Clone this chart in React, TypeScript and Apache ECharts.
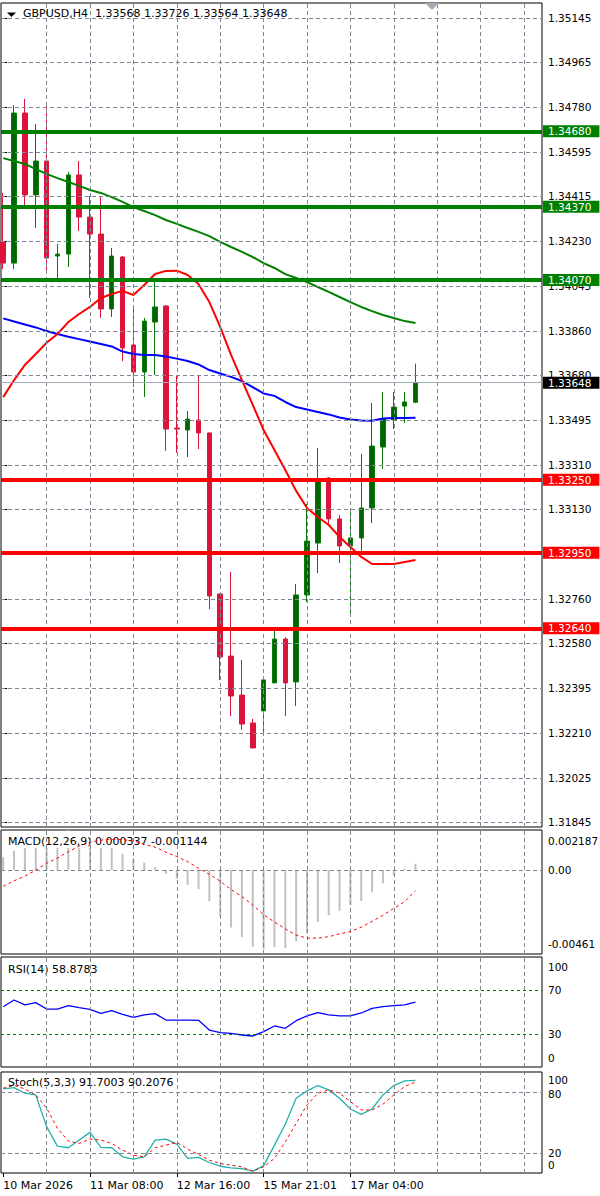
import React, { useEffect, useRef } from "react";
import * as echarts from "echarts";

const FONT = '"DejaVu Sans", Tahoma, sans-serif';
const FS = 10.5;
const FS_TITLE = 11;
const GRID_COLOR = "#7d8894";
const GRID_DASH = [4, 3];

// ---------- header ----------
const symbolName = "GBPUSD,H4";
const lastBarOHLC = ["1.33568", "1.33726", "1.33564", "1.33648"];

// ---------- H4 candles (bar index 0..38) ----------
const opens = [1.34226, 1.34139, 1.34755, 1.34419, 1.34558, 1.34168, 1.34176, 1.34501, 1.34328, 1.34258, 1.33951, 1.34164, 1.33803, 1.33692, 1.33897, 1.33963, 1.33462, 1.33454, 1.33495, 1.33442, 1.32781, 1.32526, 1.32366, 1.32251, 1.32301, 1.32416, 1.32596, 1.3242, 1.32777, 1.3299, 1.33257, 1.33089, 1.32978, 1.33011, 1.33134, 1.33384, 1.33495, 1.33552, 1.33568];
const highs = [1.34427, 1.34788, 1.34813, 1.3471, 1.34796, 1.34217, 1.34513, 1.34558, 1.34414, 1.3441, 1.34201, 1.34168, 1.33951, 1.33914, 1.34078, 1.33967, 1.33676, 1.33532, 1.3368, 1.33442, 1.32781, 1.32871, 1.3251, 1.32268, 1.32444, 1.32641, 1.32604, 1.32822, 1.3315, 1.3338, 1.33261, 1.33105, 1.33117, 1.33356, 1.33565, 1.3361, 1.3361, 1.3361, 1.33726];
const lows = [1.34115, 1.34115, 1.34365, 1.34283, 1.34098, 1.34074, 1.34123, 1.34271, 1.33996, 1.33914, 1.33918, 1.33737, 1.3363, 1.33589, 1.3368, 1.33368, 1.3336, 1.33343, 1.33376, 1.32719, 1.32428, 1.3228, 1.32223, 1.32149, 1.32215, 1.32416, 1.3228, 1.32321, 1.32748, 1.32867, 1.3306, 1.32908, 1.32691, 1.32949, 1.33072, 1.33294, 1.33458, 1.33483, 1.33564];
const closes = [1.34139, 1.34755, 1.34419, 1.34558, 1.3416, 1.34176, 1.34501, 1.34328, 1.34258, 1.33951, 1.34168, 1.33791, 1.33692, 1.33901, 1.33959, 1.33458, 1.33458, 1.33499, 1.33442, 1.32773, 1.32522, 1.32362, 1.32247, 1.32149, 1.32428, 1.32596, 1.32416, 1.32777, 1.32998, 1.33245, 1.33089, 1.32978, 1.33011, 1.33134, 1.33388, 1.33499, 1.33548, 1.33569, 1.33648];

// ---------- moving averages ----------
const maSlow = [1.3457, 1.34558, 1.34546, 1.34525, 1.34505, 1.34488, 1.34472, 1.34456, 1.34439, 1.34427, 1.3441, 1.3439, 1.34369, 1.34353, 1.34336, 1.34316, 1.343, 1.34283, 1.34267, 1.3425, 1.34226, 1.34205, 1.34185, 1.34164, 1.34139, 1.34119, 1.34094, 1.34078, 1.34061, 1.34041, 1.34021, 1.34, 1.33979, 1.33959, 1.33942, 1.33926, 1.33914, 1.33901, 1.33893];
const maMid = [1.33912, 1.33899, 1.33887, 1.33875, 1.3386, 1.33848, 1.33837, 1.33827, 1.33817, 1.33807, 1.33797, 1.33776, 1.33766, 1.33762, 1.33762, 1.33756, 1.33747, 1.33737, 1.33723, 1.337, 1.33686, 1.33672, 1.33655, 1.3363, 1.33604, 1.33594, 1.33569, 1.33548, 1.33538, 1.33528, 1.33518, 1.33505, 1.33497, 1.33493, 1.33492, 1.33501, 1.33503, 1.33503, 1.33504];
const maFast = [1.33589, 1.33659, 1.33721, 1.33766, 1.33812, 1.33848, 1.33897, 1.3393, 1.33959, 1.33996, 1.34012, 1.34025, 1.34008, 1.34049, 1.34094, 1.34107, 1.34108, 1.3409, 1.34053, 1.33979, 1.33877, 1.33762, 1.33659, 1.33557, 1.33454, 1.33372, 1.3329, 1.33204, 1.33134, 1.33097, 1.33064, 1.33015, 1.32974, 1.32933, 1.32904, 1.32904, 1.32904, 1.32912, 1.3292];

// ---------- horizontal levels ----------
const resistanceLevels = [1.3468, 1.3437, 1.3407];
const supportLevels = [1.3325, 1.3295, 1.3264];
const currentPrice = 1.33648;

// ---------- price axis ----------
const priceTicks = [1.35145, 1.34965, 1.3478, 1.34595, 1.34415, 1.3423, 1.34045, 1.3386, 1.3368, 1.33495, 1.3331, 1.3313, 1.32945, 1.3276, 1.3258, 1.32395, 1.3221, 1.32025, 1.31845];
const priceTickLabels = ["1.35145", "1.34965", "1.34780", "1.34595", "1.34415", "1.34230", "1.34045", "1.33860", "1.33680", "1.33495", "1.33310", "1.33130", "1.32945", "1.32760", "1.32580", "1.32395", "1.32210", "1.32025", "1.31845"];
const P_MIN = 1.318245;
const P_MAX = 1.352066;

// ---------- MACD(12,26,9) ----------
const macdTitle = "MACD(12,26,9) 0.000337 -0.001144";
const macdMain = [0.0007, 0.00105, 0.00135, 0.0015, 0.0017, 0.0019, 0.002187, 0.002, 0.0019, 0.0017, 0.0014, 0.00088, 0.00062, 0.0004, 0.00016, -0.00021, -0.0005, -0.00082, -0.00105, -0.00172, -0.00256, -0.00316, -0.00368, -0.00421, -0.00434, -0.00424, -0.00428, -0.00392, -0.00348, -0.00285, -0.00248, -0.00224, -0.0019, -0.0017, -0.00123, -0.00074, -0.0003, 0.00005, 0.000337];
const macdSignal = [-0.0009, -0.0006, -0.00034, -0.00002, 0.00036, 0.00065, 0.00099, 0.00131, 0.00151, 0.00163, 0.00168, 0.00166, 0.00159, 0.0014, 0.00125, 0.00097, 0.00073, 0.00045, 0.00009, -0.00024, -0.00062, -0.00108, -0.00146, -0.00193, -0.00245, -0.00286, -0.00323, -0.00357, -0.00374, -0.00374, -0.00366, -0.00351, -0.00338, -0.00314, -0.00282, -0.00249, -0.00211, -0.00174, -0.001144];
const MACD_MIN = -0.00461;
const MACD_MAX = 0.002187;
const macdLabelPos = [0.00158, 0, -0.00406];
const macdLabels = ["0.002187", "0.00", "-0.00461"];

// ---------- RSI(14) ----------
const rsiTitle = "RSI(14) 58.8783";
const rsi = [54.8, 60.9, 56.4, 58.5, 52.7, 52.7, 55.8, 53.9, 52.4, 48.8, 51.2, 47.9, 45.2, 47.3, 48.5, 42.7, 42.7, 42.7, 42.4, 33.6, 31.2, 30.6, 29.1, 28.2, 32.1, 37.3, 35.2, 42.1, 46.4, 49.4, 47.3, 46.4, 46.4, 49.1, 53.3, 54.8, 55.8, 56.4, 58.88];
const rsiLevels = [70, 30];
const rsiLabelPos = [91, 70, 30, 8];
const rsiLabels = ["100", "70", "30", "0"];

// ---------- Stochastic(5,3,3) ----------
const stochTitle = "Stoch(5,3,3) 91.7003 90.2076";
const stochMain = [83.3, 84.6, 79.0, 77.3, 45.9, 26.6, 25.0, 32.6, 40.2, 25.3, 25.0, 16.0, 13.7, 16.0, 32.6, 33.6, 28.6, 14.4, 15.4, 10.4, 6.7, 5.1, 4.4, 1.8, 7.1, 27.6, 48.2, 74.0, 81.3, 86.6, 82.3, 74.0, 63.4, 58.1, 63.4, 77.3, 86.6, 91.3, 91.7];
const stochSignal = [84.0, 86.6, 83.3, 77.3, 64.1, 44.2, 31.6, 29.3, 33.6, 32.6, 29.3, 22.7, 17.7, 16.0, 25.0, 27.6, 30.3, 23.6, 18.3, 12.7, 9.4, 7.7, 6.1, 1.8, 6.1, 14.4, 30.9, 49.2, 67.4, 79.0, 82.3, 79.0, 70.7, 62.4, 62.4, 68.1, 77.3, 85.6, 90.21];
const stochLevels = [80, 20];
const stochLabelPos = [92, 78, 20, 8];
const stochLabels = ["100", "80", "20", "0"];

// ---------- time axis ----------
const gridBars = [4, 8, 12, 16, 20, 24, 28, 32, 36, 40, 44, 48];
const dateBars = [0, 8, 16, 24, 32];
const dateLabels = ["10 Mar 2026", "11 Mar 08:00", "12 Mar 16:00", "15 Mar 21:01", "17 Mar 04:00"];
const X_MIN = -0.203;
const X_MAX = 49.659;

const panels = [
  { top: 3, height: 824 },
  { top: 830, height: 124 },
  { top: 957, height: 110 },
  { top: 1072, height: 101 },
];

const pair = (arr: number[]) => arr.map((v, i) => [i, v]);
const lookup = (pos: number[], labels: string[]) => (v: number) => {
  for (let i = 0; i < pos.length; i++) if (Math.abs(pos[i] - v) < 1e-9) return labels[i];
  return "";
};

const txt = { color: "#000", fontFamily: FONT, fontSize: FS };
const gridLine = { color: GRID_COLOR, type: GRID_DASH, width: 1 };

export default function App() {
  const ref = useRef<HTMLDivElement>(null);
  useEffect(() => {
    const chart = echarts.init(ref.current!, null, { renderer: "svg" });

    const vLines = gridBars.map((b) => ({ xAxis: b }));
    const levelLabel = {
      show: true,
      position: "end",
      distance: 1,
      formatter: (p: any) => Number(p.value).toFixed(5),
      color: "#fff",
      fontFamily: FONT,
      fontSize: FS,
      lineHeight: 12,
      padding: [0, 8, 0, 5],
    };

    const gridHelper = (i: number, extra: any[]) => ({
      type: "line",
      xAxisIndex: i,
      yAxisIndex: i,
      data: [],
      silent: true,
      z: 1,
      markLine: {
        silent: true,
        symbol: "none",
        precision: 8,
        label: { show: false },
        lineStyle: gridLine,
        emphasis: { disabled: true },
        data: [...extra, ...vLines],
      },
    });

    const option: any = {
      animation: false,
      backgroundColor: "#fff",
      textStyle: { fontFamily: FONT },
      grid: panels.map((p) => ({
        left: 1,
        right: 58,
        top: p.top,
        height: p.height,
        show: true,
        borderColor: "#000",
        borderWidth: 1,
        backgroundColor: "transparent",
        containLabel: false,
        outerBoundsMode: "none",
      })),
      xAxis: panels.map((_, i) => ({
        type: "value",
        gridIndex: i,
        min: X_MIN,
        max: X_MAX,
        axisLine: { show: false },
        splitLine: { show: false },
        axisTick:
          i === 3
            ? { show: true, customValues: dateBars, length: 4, lineStyle: { color: "#000" } }
            : { show: false },
        axisLabel:
          i === 3
            ? {
                show: true,
                customValues: dateBars,
                formatter: (v: number) => dateLabels[dateBars.indexOf(Math.round(v))] ?? "",
                align: "left",
                margin: 7,
                ...txt,
                fontSize: FS_TITLE,
              }
            : { show: false },
      })),
      yAxis: [
        {
          type: "value",
          gridIndex: 0,
          position: "right",
          min: P_MIN,
          max: P_MAX,
          axisLine: { show: false },
          splitLine: { show: false },
          axisTick: { show: true, customValues: priceTicks, length: 4, lineStyle: { color: "#000" } },
          axisLabel: { customValues: priceTicks, formatter: lookup(priceTicks, priceTickLabels), margin: 6, ...txt },
        },
        {
          type: "value",
          gridIndex: 1,
          position: "right",
          min: MACD_MIN,
          max: MACD_MAX,
          axisLine: { show: false },
          splitLine: { show: false },
          axisTick: { show: false },
          axisLabel: { customValues: macdLabelPos, formatter: lookup(macdLabelPos, macdLabels), margin: 6, ...txt },
        },
        {
          type: "value",
          gridIndex: 2,
          position: "right",
          min: 0,
          max: 100,
          axisLine: { show: false },
          splitLine: { show: false },
          axisTick: { show: false },
          axisLabel: { customValues: rsiLabelPos, formatter: lookup(rsiLabelPos, rsiLabels), margin: 6, ...txt },
        },
        {
          type: "value",
          gridIndex: 3,
          position: "right",
          min: 0,
          max: 100,
          axisLine: { show: false },
          splitLine: { show: false },
          axisTick: { show: false },
          axisLabel: { customValues: stochLabelPos, formatter: lookup(stochLabelPos, stochLabels), margin: 6, ...txt },
        },
      ],
      series: [
        // ----- main panel -----
        gridHelper(0, priceTicks.map((v) => ({ yAxis: v }))),
        {
          type: "line",
          xAxisIndex: 0,
          yAxisIndex: 0,
          data: [],
          z: 2,
          clip: false,
          markLine: {
            silent: true,
            symbol: "none",
            precision: 8,
            emphasis: { disabled: true },
            lineStyle: { color: "#a3abb4", width: 1, type: "solid" },
            label: { ...levelLabel, backgroundColor: "#000" },
            data: [{ yAxis: currentPrice }],
          },
        },
        {
          type: "candlestick",
          xAxisIndex: 0,
          yAxisIndex: 0,
          z: 3,
          barWidth: 5,
          data: opens.map((o, i) => [i, o, closes[i], lows[i], highs[i]]),
          itemStyle: {
            color: "#006400",
            color0: "#DC143C",
            borderColor: "#0a7a0a",
            borderColor0: "#DC143C",
            borderWidth: 1,
          },
        },
        {
          type: "line",
          xAxisIndex: 0,
          yAxisIndex: 0,
          z: 4,
          data: pair(maSlow),
          showSymbol: false,
          symbol: "none",
          lineStyle: { color: "#008000", width: 2 },
        },
        {
          type: "line",
          xAxisIndex: 0,
          yAxisIndex: 0,
          z: 4,
          data: pair(maMid),
          showSymbol: false,
          symbol: "none",
          lineStyle: { color: "#0000FF", width: 2 },
        },
        {
          type: "line",
          xAxisIndex: 0,
          yAxisIndex: 0,
          z: 4,
          data: pair(maFast),
          showSymbol: false,
          symbol: "none",
          lineStyle: { color: "#FF0000", width: 2 },
        },
        {
          type: "line",
          xAxisIndex: 0,
          yAxisIndex: 0,
          data: [],
          z: 6,
          clip: false,
          markLine: {
            silent: true,
            symbol: "none",
            precision: 8,
            emphasis: { disabled: true },
            label: levelLabel,
            data: [
              ...resistanceLevels.map((v) => ({
                yAxis: v,
                lineStyle: { color: "#008000", width: 4, type: "solid" },
                label: { backgroundColor: "#008000" },
              })),
              ...supportLevels.map((v) => ({
                yAxis: v,
                lineStyle: { color: "#FF0000", width: 4, type: "solid" },
                label: { backgroundColor: "#FF0000" },
              })),
            ],
          },
        },
        // ----- MACD -----
        gridHelper(1, [{ yAxis: 0 }]),
        {
          type: "bar",
          xAxisIndex: 1,
          yAxisIndex: 1,
          z: 1,
          barWidth: 2,
          data: pair(macdMain),
          itemStyle: { color: "#C0C0C0" },
        },
        {
          type: "line",
          xAxisIndex: 1,
          yAxisIndex: 1,
          z: 5,
          data: pair(macdSignal),
          showSymbol: false,
          symbol: "none",
          lineStyle: { color: "#FF0000", width: 1, type: [3, 3] },
        },
        // ----- RSI -----
        gridHelper(2, []),
        {
          type: "line",
          xAxisIndex: 2,
          yAxisIndex: 2,
          data: [],
          z: 2,
          markLine: {
            silent: true,
            symbol: "none",
            precision: 8,
            emphasis: { disabled: true },
            label: { show: false },
            lineStyle: { color: "#008000", width: 1, type: [3, 3] },
            data: rsiLevels.map((v) => ({ yAxis: v })),
          },
        },
        {
          type: "line",
          xAxisIndex: 2,
          yAxisIndex: 2,
          z: 4,
          data: pair(rsi),
          showSymbol: false,
          symbol: "none",
          lineStyle: { color: "#0000FF", width: 1.3 },
        },
        // ----- Stochastic -----
        gridHelper(3, stochLevels.map((v) => ({ yAxis: v }))),
        {
          type: "line",
          xAxisIndex: 3,
          yAxisIndex: 3,
          z: 4,
          data: pair(stochMain),
          showSymbol: false,
          symbol: "none",
          lineStyle: { color: "#20B2AA", width: 1.3 },
        },
        {
          type: "line",
          xAxisIndex: 3,
          yAxisIndex: 3,
          z: 4,
          data: pair(stochSignal),
          showSymbol: false,
          symbol: "none",
          lineStyle: { color: "#FF0000", width: 1, type: [3, 3] },
        },
      ],
      graphic: [
        { type: "polygon", z: 10, shape: { points: [[7, 12.5], [16, 12.5], [11.5, 17]] }, style: { fill: "#000" } },
        { type: "polygon", z: 10, shape: { points: [[425, 3], [439, 3], [432, 10]] }, style: { fill: "#a3abb4" } },
        {
          type: "text",
          z: 10,
          x: 23,
          y: 8,
          style: { text: `${symbolName}  ${lastBarOHLC.join(" ")}`, fill: "#000", font: `${FS_TITLE}px ${FONT}`, verticalAlign: "top", textVerticalAlign: "top" },
        },
        {
          type: "text",
          z: 3,
          x: 7,
          y: 831,
          style: {
            text: macdTitle,
            fill: "#000",
            font: `${FS_TITLE}px ${FONT}`,
            verticalAlign: "top",
            textVerticalAlign: "top",
            backgroundColor: "#fff",
            padding: [5, 2, 1, 1],
          },
        },
        {
          type: "text",
          z: 3,
          x: 8,
          y: 964,
          style: { text: rsiTitle, fill: "#000", font: `${FS_TITLE}px ${FONT}`, verticalAlign: "top", textVerticalAlign: "top" },
        },
        {
          type: "text",
          z: 3,
          x: 8,
          y: 1077,
          style: { text: stochTitle, fill: "#000", font: `${FS_TITLE}px ${FONT}`, verticalAlign: "top", textVerticalAlign: "top" },
        },
      ],
    };

    chart.setOption(option);
    return () => chart.dispose();
  }, []);

  return (
    <div
      ref={ref}
      style={{ position: "absolute", left: 0, top: 0, width: 600, height: 1196, background: "#fff" }}
    />
  );
}
